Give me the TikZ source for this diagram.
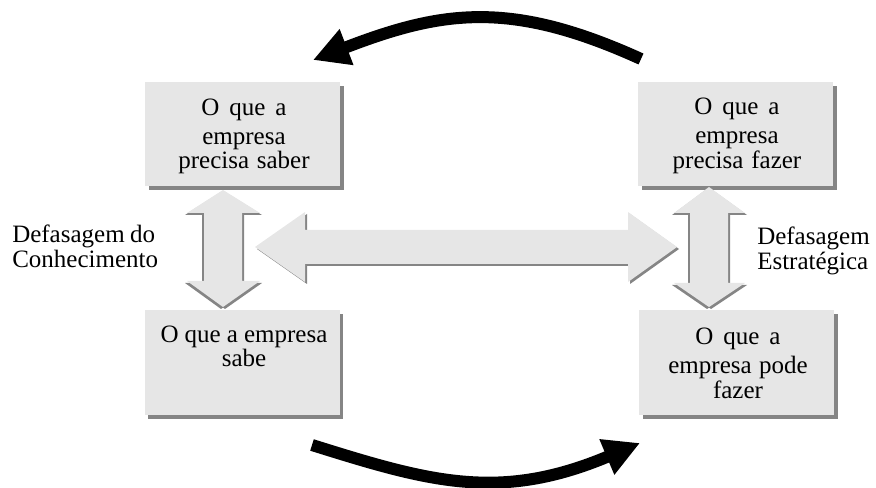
\documentclass[tikz,border=0pt]{standalone}
\usepackage{fontspec}
\setmainfont{Liberation Serif}
\usetikzlibrary{arrows.meta,shadows}
\definecolor{boxfill}{HTML}{E6E6E6}
\definecolor{shadecol}{HTML}{858585}
\newcommand{\mybxfont}{\fontsize{18.75}{21.75}\selectfont\spaceskip=0.2em plus 0.1em minus 0.05em\relax}
\newcommand{\mylbfont}{\fontsize{18.75}{21.75}\selectfont\spaceskip=0.22em plus 0.1em minus 0.05em\relax}
\begin{document}
\begin{tikzpicture}[x=0.75pt,y=-0.75pt,
  box/.style={rectangle, fill=boxfill, draw=none, minimum width=146.25pt, minimum height=78pt, inner sep=0pt,
    drop shadow={shadow xshift=2.8pt, shadow yshift=-2.8pt, opacity=1, fill=shadecol}},
  boxtext/.style={anchor=base, text width=142pt, align=center, inner sep=0pt},
  lbl/.style={anchor=base west, text width=125pt, align=left, inner sep=0pt},
  blockarrow/.style={fill=boxfill, draw=none},
  blockshadow/.style={fill=shadecol, draw=none},
  curvearrow/.style={line width=9pt, draw=black, -{Triangle[length=27pt, width=27pt]}}
]
\useasboundingbox (0,0) rectangle (876,488);

% boxes
\node[box] (tl) at (242.5,134.5) {};
\node[box] (tr) at (735.5,134) {};
\node[box, minimum height=78.75pt] (bl) at (242,362.5) {};
\node[box, minimum height=78.75pt] (br) at (736.5,362.5) {};

% box texts
\node[boxtext] (tlt) at (244,116) {\mybxfont O que a\\empresa\\precisa saber};
\node[boxtext] (trt) at (737,115) {\mybxfont O que a\\empresa\\precisa fazer};
\node[boxtext] (blt) at (244,343) {\mybxfont O que a empresa\\sabe};
\node[boxtext] (brt) at (738,345) {\mybxfont O que a\\empresa pode\\fazer};

% labels
\node[lbl] (lk) at (12,243) {\mylbfont Defasagem do\\Conhecimento};
\node[lbl] (le) at (757,245) {\mylbfont Defasagem\\Estrat\'egica};

% horizontal double block arrow
\begin{scope}[shift={(2,2)}]
\fill[blockshadow] (255,247) -- (305,212) -- (305,230) -- (628,230) -- (628,212) -- (677,247)
  -- (628,282) -- (628,264) -- (305,264) -- (305,282) -- cycle;
\end{scope}
\fill[blockarrow] (255,247) -- (305,212) -- (305,230) -- (628,230) -- (628,212) -- (677,247)
  -- (628,282) -- (628,264) -- (305,264) -- (305,282) -- cycle;

% left vertical double block arrow
\foreach \sx in {2,-2}{
\begin{scope}[shift={(\sx,2)}]
\fill[blockshadow] (223,190) -- (260,213) -- (242,213) -- (242,281) -- (260,281) -- (223,307)
  -- (187,281) -- (204,281) -- (204,213) -- (187,213) -- cycle;
\end{scope}}
\fill[blockarrow] (223,190) -- (260,213) -- (242,213) -- (242,281) -- (260,281) -- (223,307)
  -- (187,281) -- (204,281) -- (204,213) -- (187,213) -- cycle;

% right vertical double block arrow
\foreach \sx in {2,-2}{
\begin{scope}[shift={(\sx,2)}]
\fill[blockshadow] (709,187) -- (745,213) -- (728,213) -- (728,283) -- (745,283) -- (709,307)
  -- (674,283) -- (690,283) -- (690,213) -- (674,213) -- cycle;
\end{scope}}
\fill[blockarrow] (709,187) -- (745,213) -- (728,213) -- (728,283) -- (745,283) -- (709,307)
  -- (674,283) -- (690,283) -- (690,213) -- (674,213) -- cycle;

% curved arrows
\coordinate (ta) at (641,59);
\coordinate (tb) at (313,60);
\coordinate (ba) at (312,445);
\coordinate (bb) at (640,443);
\draw[curvearrow] (ta) .. controls (511,0) and (443,10) .. (tb);
\draw[curvearrow] (ba) .. controls (430,482) and (500,502) .. (bb);
\end{tikzpicture}
\end{document}
